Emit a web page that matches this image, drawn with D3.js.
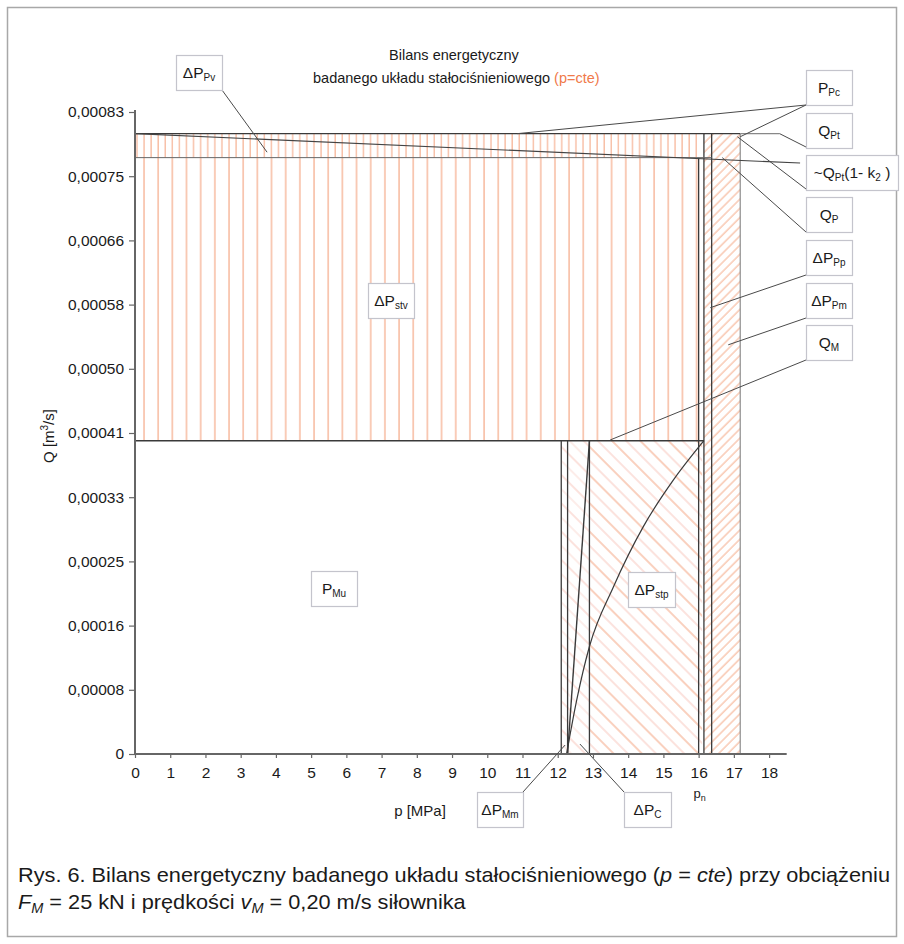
<!DOCTYPE html>
<html><head><meta charset="utf-8">
<script src="https://cdn.jsdelivr.net/npm/d3@7"></script>
<style>
html,body{margin:0;padding:0;background:#fff;}
svg{display:block;font-family:"Liberation Sans",Arial,sans-serif;}
</style></head>
<body><svg id="c" width="904" height="944"></svg>
<script>
// ---------- data ----------
const yTickLabels = ["0","0,00008","0,00016","0,00025","0,00033","0,00041","0,00050","0,00058","0,00066","0,00075","0,00083"];
const yTickStep = 0.000083;
const xTickLabels = ["0","1","2","3","4","5","6","7","8","9","10","11","12","13","14","15","16","17","18"];

// flow levels [m3/s]
const flowNames  = ["Q_M", "Q_P", "Q_Pt"];
const flowValues = [0.000405, 0.000771, 0.000802];
const QM = flowValues[0], QP = flowValues[1], QPt = flowValues[2];

// hatched energy regions (p in MPa, Q in m3/s)
const regionNames = ["ΔP_stv", "ΔP_Pv", "ΔP_stp", "ΔP_C", "ΔP_Pm", "strip"];
const regionP0 = [0,    0,    12.9, 12.1, 16.15, 16.0];
const regionP1 = [16.0, 16.0, 16.1, 12.9, 17.18, 16.15];
const regionQ0 = [QM,   QP,   0,    0,    0,     0];
const regionQ1 = [QP,   QPt,  QM,   QM,   QPt,   QPt];
const regionHatch = ["vert", "vertDense", "back", "backLight", "fwd", "vert"];

// vertical boundary lines
const vLineP   = [12.1, 12.28, 12.9, 16.0, 16.15, 16.37, 17.18];
const vLineTop = [QM,   QM,    QM,   QP,   QPt,   QPt,   QPt];
const vLineDark = [true, true, true, true, true, true, false];

// horizontal boundary lines
const hLineQ  = [QM,   QP,   QPt];
const hLineP1 = [16.15, 16.37, 17.18];

// throttle characteristic curve (p, Q)
const curveP = [12.25, 12.54, 12.9, 13.58, 14.43, 15.28, 16.15];
const curveQ = [0, 0.00007, 0.000139, 0.000216, 0.000294, 0.000354, 0.000405];

// motor line (p, Q)
const motorP = [12.28, 12.9];
const motorQ = [0, QM];

// pump characteristic ~Q_Pt(1-k2 p/pn)
const pumpP = [0, 18.88];
const pumpQ = [QPt, 0.000764];

// ---------- layout ----------
const svg = d3.select("#c");
const x = d3.scaleLinear().domain([0, 18.5]).range([135, 786.7]);
const y = d3.scaleLinear().domain([0, 0.00083]).range([754, 112]);

svg.append("rect").attr("x",0).attr("y",0).attr("width",904).attr("height",944).attr("fill","#fff");
svg.append("rect").attr("x",7.5).attr("y",7.5).attr("width",889).attr("height",929)
   .attr("fill","none").attr("stroke","#a8a8a8").attr("stroke-width",1.5);

// ---------- patterns ----------
const defs = svg.append("defs");
const orange = "#f4a27e", pink = "#f7c0b4";
function pat(id, w, h, lines, rot, off){
  const p = defs.append("pattern").attr("id",id).attr("patternUnits","userSpaceOnUse")
    .attr("width",w).attr("height",h).attr("x",off||0);
  if (rot) p.attr("patternTransform","rotate("+rot+")");
  lines.forEach(l=>p.append("line").attr("x1",l[0]).attr("y1",0).attr("x2",l[0]).attr("y2",h)
    .attr("stroke",l[1]).attr("stroke-width",l[2]));
}
pat("vert", 14.17, 10, [[1,orange,1.1]], 0, 143);
pat("vertDense", 7.08, 10, [[1,orange,1]], 0, 143);
pat("back", 20, 20, [[1,orange,1],[11,pink,0.9]], -45, 0);
pat("backLight", 20, 20, [[1,pink,0.9],[11,"#f9d0c8",0.8]], -45, 0);
pat("fwd", 6.5, 6.5, [[1,orange,0.9]], 45, 0);

// ---------- regions ----------
svg.append("g").selectAll("rect").data(regionNames).join("rect")
  .attr("x",(d,i)=>x(regionP0[i]))
  .attr("width",(d,i)=>x(regionP1[i])-x(regionP0[i]))
  .attr("y",(d,i)=>y(regionQ1[i]))
  .attr("height",(d,i)=>y(regionQ0[i])-y(regionQ1[i]))
  .attr("fill",(d,i)=>"url(#"+regionHatch[i]+")");

// ---------- boundary lines ----------
const dark = "#3a3a3a";
svg.append("g").selectAll("line").data(vLineP).join("line")
  .attr("x1",d=>x(d)).attr("x2",d=>x(d)).attr("y1",y(0)).attr("y2",(d,i)=>y(vLineTop[i]))
  .attr("stroke",(d,i)=>vLineDark[i]?dark:"#777").attr("stroke-width",(d,i)=>vLineDark[i]?1.3:1);
svg.append("g").selectAll("line").data(hLineQ).join("line")
  .attr("x1",x(0)).attr("x2",(d,i)=>x(hLineP1[i])).attr("y1",d=>y(d)).attr("y2",d=>y(d))
  .attr("stroke",(d,i)=>i===1?"#666":dark).attr("stroke-width",(d,i)=>i===1?1:1.4);

const lineGen = d3.line().x(d=>x(d[0])).y(d=>y(d[1]));
svg.append("path").attr("d", d3.line().x(d=>x(d[0])).y(d=>y(d[1])).curve(d3.curveMonotoneX)(curveP.map((p,i)=>[p,curveQ[i]])))
  .attr("fill","none").attr("stroke",dark).attr("stroke-width",1.2);
svg.append("path").attr("d", lineGen(motorP.map((p,i)=>[p,motorQ[i]])))
  .attr("fill","none").attr("stroke",dark).attr("stroke-width",1.4);
svg.append("path").attr("d", lineGen(pumpP.map((p,i)=>[p,pumpQ[i]])))
  .attr("fill","none").attr("stroke","#444").attr("stroke-width",1.1);

// ---------- axes ----------
const axisCol = "#666";
const gy = svg.append("g").attr("transform","translate("+x(0)+",0)")
  .call(d3.axisLeft(y).tickValues(yTickLabels.map((d,i)=>i*yTickStep)).tickFormat((d,i)=>yTickLabels[i]).tickSize(6).tickSizeOuter(0));
const gx = svg.append("g").attr("transform","translate(0,"+y(0)+")")
  .call(d3.axisBottom(x).tickValues(xTickLabels.map(Number)).tickFormat((d,i)=>xTickLabels[i]).tickSize(4).tickSizeOuter(0));
[gx,gy].forEach(g=>{
  g.select(".domain").attr("stroke",axisCol).attr("stroke-width",2);
  g.selectAll(".tick line").attr("stroke",axisCol).attr("stroke-width",1.2);
  g.selectAll(".tick text").attr("fill","#1a1a1a").attr("font-size",15.5).attr("font-family","Liberation Sans, Arial, sans-serif");
});
gy.select(".domain").attr("d","M0,"+y(0)+"V"+(y(0.00083)-2));
gy.selectAll(".tick text").attr("x",-11);
gx.selectAll(".tick text").attr("y",13);
gx.select(".domain").attr("d","M"+x(0)+",0H"+x(18.5));

// axis titles
svg.append("text").attr("x",420).attr("y",816).attr("text-anchor","middle")
  .attr("font-size",15).attr("fill","#1a1a1a").text("p  [MPa]");
const yt = svg.append("text").attr("transform","translate(54,436) rotate(-90)").attr("text-anchor","middle")
  .attr("font-size",15).attr("fill","#1a1a1a");
yt.append("tspan").text("Q  [m");
yt.append("tspan").attr("font-size",10).attr("dy",-6).text("3");
yt.append("tspan").attr("dy",6).text("/s]");

// p_n
const pn = svg.append("text").attr("x",x(16)+1).attr("y",798).attr("text-anchor","middle").attr("font-size",13).attr("fill","#1a1a1a");
pn.append("tspan").text("p");
pn.append("tspan").attr("font-size",9).attr("dy",3).text("n");

// title
svg.append("text").attr("x",454).attr("y",60).attr("text-anchor","middle").attr("font-size",14.5).attr("fill","#1a1a1a")
  .text("Bilans energetyczny");
const t2 = svg.append("text").attr("x",313).attr("y",83).attr("font-size",14.5).attr("fill","#1a1a1a");
t2.append("tspan").text("badanego układu stałociśnieniowego  ");
t2.append("tspan").attr("fill","#f07a4a").text("(p=cte)");

// ---------- labels with leaders ----------
const labelParts = [
  [["ΔP",0],["Pv",1]],
  [["P",0],["Pc",1]],
  [["Q",0],["Pt",1]],
  [["~Q",0],["Pt",1],["(1- k",0],["2",1],[" )",0]],
  [["Q",0],["P",1]],
  [["ΔP",0],["Pp",1]],
  [["ΔP",0],["Pm",1]],
  [["Q",0],["M",1]],
  [["ΔP",0],["stv",1]],
  [["P",0],["Mu",1]],
  [["ΔP",0],["stp",1]],
  [["ΔP",0],["Mm",1]],
  [["ΔP",0],["C",1]]
];
// box placement (pixels)
const boxX = [176, 806, 806, 806, 806, 806, 806, 806, 368, 311, 628, 477, 624];
const boxY = [55,  70,  113, 155, 197, 240, 283, 325, 283, 571, 572, 792, 792];
const boxW = [46,  46,  46,  92,  46,  46,  46,  46,  46,  46,  47,  46,  47];
const boxH = 35;
// leaders: [label index, box corner (px), target (p, Q)]
const leaders = [
  [0, [222,90],  [3.75, 0.000778]],
  [1, [806,105], [10.85, QPt]],
  [1, [806,105], [17.18, 0.000798]],
  [2, [806,147], [18.3, QPt]],
  [3, [806,189], [17.1, 0.000798]],
  [4, [806,232], [16.67, QP]],
  [5, [806,275], [16.33, 0.000577]],
  [6, [806,318], [16.84, 0.000529]],
  [7, [806,360], [13.49, 0.000406]],
  [11,[523,792], [12.21, 0.0000116]],
  [12,[624,792], [12.63, 0.0000129]]
];
svg.append("line").attr("x1",x(17.18)).attr("x2",x(18.3)).attr("y1",y(QPt)).attr("y2",y(QPt))
  .attr("stroke","#888").attr("stroke-width",1.2);
svg.append("g").selectAll("line").data(leaders).join("line")
  .attr("x1",d=>d[1][0]).attr("y1",d=>d[1][1]).attr("x2",d=>x(d[2][0])).attr("y2",d=>y(d[2][1]))
  .attr("stroke","#4a4a4a").attr("stroke-width",1);

const lg = svg.append("g").selectAll("g").data(labelParts).join("g");
lg.append("rect").attr("x",(d,i)=>boxX[i]+0.5).attr("y",(d,i)=>boxY[i]+0.5)
  .attr("width",(d,i)=>boxW[i]).attr("height",boxH)
  .attr("fill","#fff").attr("stroke","#c4c4cc").attr("stroke-width",1.2);
lg.each(function(parts,i){
  const t = d3.select(this).append("text").attr("x",boxX[i]+boxW[i]/2).attr("y",boxY[i]+23)
    .attr("text-anchor","middle").attr("font-size",15.5).attr("fill","#1a1a1a");
  let sub=false;
  parts.forEach(p=>{
    const ts = t.append("tspan").text(p[0]);
    if (p[1] && !sub){ ts.attr("font-size",10).attr("dy",3); sub=true; }
    else if (!p[1] && sub){ ts.attr("dy",-3); sub=false; }
    else if (p[1]) ts.attr("font-size",10);
  });
});

// ---------- caption ----------
const capFont = "'Liberation Sans Narrow','Arial Narrow','Liberation Sans',Arial,sans-serif";
const c1 = svg.append("text").attr("x",18).attr("y",882).attr("font-size",21).attr("font-family",capFont).attr("fill","#1a1a1a");
c1.append("tspan").text("Rys. 6. Bilans energetyczny badanego układu stałociśnieniowego (");
c1.append("tspan").attr("font-style","italic").text("p");
c1.append("tspan").text(" = ");
c1.append("tspan").attr("font-style","italic").text("cte");
c1.append("tspan").text(") przy obciążeniu");
const c2 = svg.append("text").attr("x",18).attr("y",909).attr("font-size",21).attr("font-family",capFont).attr("fill","#1a1a1a");
c2.append("tspan").attr("font-style","italic").text("F");
c2.append("tspan").attr("font-style","italic").attr("font-size",14).attr("dy",4).text("M");
c2.append("tspan").attr("dy",-4).text(" = 25 kN i prędkości ");
c2.append("tspan").attr("font-style","italic").text("v");
c2.append("tspan").attr("font-style","italic").attr("font-size",14).attr("dy",4).text("M");
c2.append("tspan").attr("dy",-4).text(" = 0,20 m/s siłownika");
const len1 = c1.node().getComputedTextLength();
const len2 = c2.node().getComputedTextLength();
const k = 872 / len1;
c1.attr("textLength", len1*k).attr("lengthAdjust","spacingAndGlyphs");
c2.attr("textLength", len2*k).attr("lengthAdjust","spacingAndGlyphs");
</script></body></html>
